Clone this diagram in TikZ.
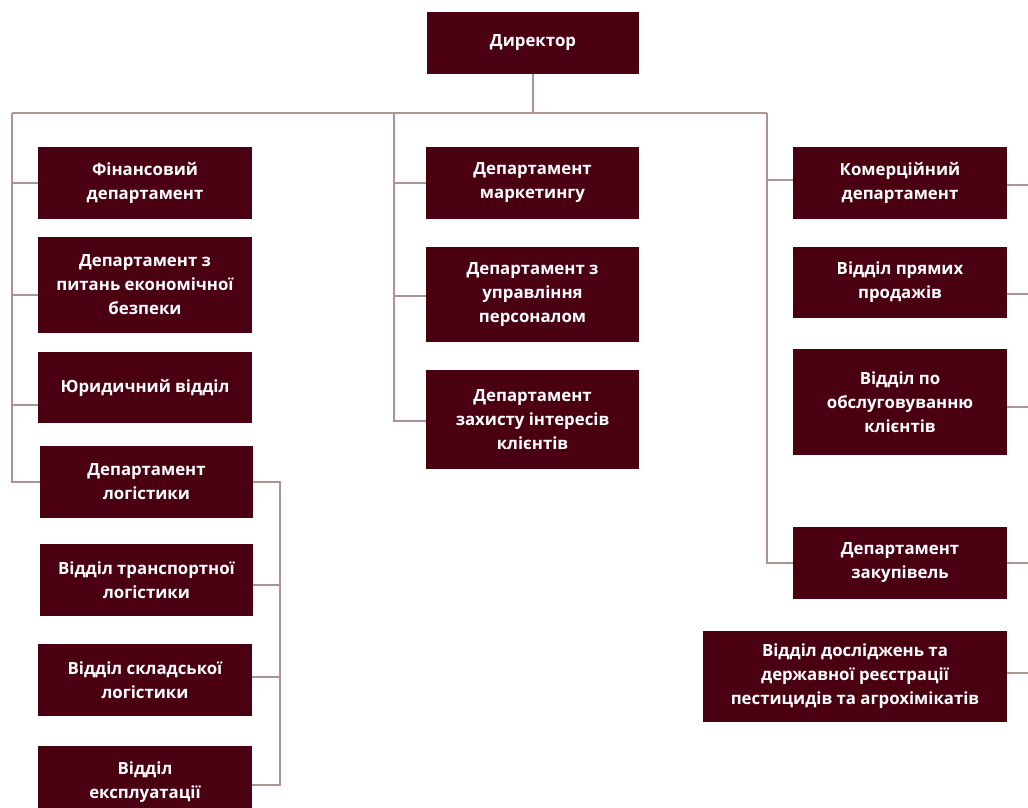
\documentclass[tikz,border=0pt]{standalone}
\usepackage{fontspec}
\setmainfont{Open Sans}[BoldFont={* Bold}]
\definecolor{boxfill}{HTML}{4B0011}
\definecolor{linkcol}{HTML}{AE9294}
\begin{document}
\begin{tikzpicture}[x=1pt,y=-1pt,
  unit/.style={fill=boxfill,draw=none,text=white,inner sep=0pt,align=center,
    font=\bfseries\fontsize{16.8}{24}\selectfont,minimum width=214pt},
  link/.style={draw=linkcol,line width=1.6pt}]
\useasboundingbox (0,0) rectangle (1028,807);
% top
\node[unit,minimum width=212pt,minimum height=62pt] (dir) at (533,43) {Директор};
% left column
\node[unit,minimum height=72pt] (fin) at (145,183) {Фінансовий\\департамент};
\node[unit,minimum height=96pt] (econ) at (145,285) {Департамент з\\питань економічної\\безпеки};
\node[unit,minimum height=71pt] (jur) at (145,387.5) {Юридичний відділ};
\node[unit,minimum width=213pt,minimum height=72pt] (log) at (146.5,482) {Департамент\\логістики};
\node[unit,minimum width=213pt,minimum height=72pt] (trans) at (146.5,580) {Відділ транспортної\\логістики};
\node[unit,minimum height=72pt] (ware) at (145,680) {Відділ складської\\логістики};
\node[unit,minimum height=72pt] (expl) at (145,782) {Відділ\\експлуатації};
% middle column
\node[unit,minimum width=213pt,minimum height=72pt] (mkt) at (532.5,183) {Департамент\\маркетингу};
\node[unit,minimum width=213pt,minimum height=95pt] (pers) at (532.5,294.5) {Департамент з\\управління\\персоналом};
\node[unit,minimum width=213pt,minimum height=99pt] (zah) at (532.5,419.5) {Департамент\\захисту інтересів\\клієнтів};
% right column
\node[unit,minimum height=72pt] (com) at (900,183) {Комерційний\\департамент};
\node[unit,minimum height=71pt] (pryam) at (900,282.5) {Відділ прямих\\продажів};
\node[unit,minimum height=106pt] (obsl) at (900,402) {Відділ по\\обслуговуванню\\клієнтів};
\node[unit,minimum height=72pt] (zak) at (900,563) {Департамент\\закупівель};
\node[unit,minimum width=304pt,minimum height=91pt] (dosl) at (855,676.5) {Відділ досліджень та\\державної реєстрації\\пестицидів та агрохімікатів};
% bus coordinates
\coordinate (busL) at (12,113);
\coordinate (busM) at (394,113);
\coordinate (busR) at (767,113);
\coordinate (busC) at (533,113);
\coordinate (logR) at (280,482);
% connectors
\draw[link] (dir.south) -- (busC);
\draw[link] (busL) -- (busR);
\draw[link] (busL) |- (log.west);
\draw[link] (fin.west) -- (fin.west -| busL);
\draw[link] ([yshift=-10pt]econ.west) -- ([yshift=-10pt]econ.west -| busL);
\draw[link] ([yshift=-17.5pt]jur.west) -- ([yshift=-17.5pt]jur.west -| busL);
\draw[link] (busM) |- ([yshift=-1.5pt]zah.west);
\draw[link] (mkt.west) -- (mkt.west -| busM);
\draw[link] ([yshift=-1.5pt]pers.west) -- ([yshift=-1.5pt]pers.west -| busM);
\draw[link] (busR) |- (zak.west);
\draw[link] ([yshift=3pt]com.west) -- ([yshift=3pt]com.west -| busR);
% right stubs
\coordinate (e1) at (1028,185);
\coordinate (e2) at (1028,294);
\coordinate (e3) at (1028,407);
\coordinate (e4) at (1028,563);
\coordinate (e5) at (1028,673);
\draw[link] (com.east |- e1) -- (e1);
\draw[link] (pryam.east |- e2) -- (e2);
\draw[link] (obsl.east |- e3) -- (e3);
\draw[link] (zak.east |- e4) -- (e4);
\draw[link] (dosl.east |- e5) -- (e5);
% logistics
\draw[link] (log.east) -- (logR) |- ([yshift=-3pt]expl.east);
\draw[link] ([yshift=-5pt]trans.east) -- ([yshift=-5pt]trans.east -| logR);
\draw[link] ([yshift=3pt]ware.east) -- ([yshift=3pt]ware.east -| logR);
\end{tikzpicture}
\end{document}
